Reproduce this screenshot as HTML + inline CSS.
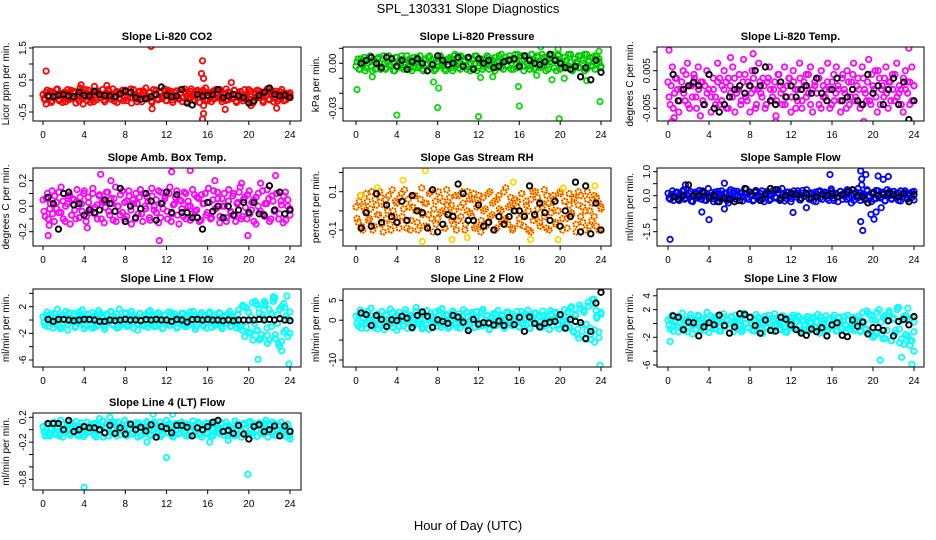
<!DOCTYPE html>
<html><head><meta charset="utf-8">
<style>
html,body{margin:0;padding:0;background:#fff;}
svg{display:block;font-family:"Liberation Sans",Arial,sans-serif;}
</style></head>
<body>
<svg id="chart" width="936" height="540" viewBox="0 0 936 540" xmlns="http://www.w3.org/2000/svg">
<rect width="936" height="540" fill="#fff"/>
<text x="468" y="13" text-anchor="middle" font-size="13">SPL_130331  Slope Diagnostics</text>
<text x="468" y="530" text-anchor="middle" font-size="13">Hour of Day (UTC)</text>
</svg>
<script>
// ---- data (values per panel; hours spread evenly 0..24 across each array) ----
const xTicks = [0,4,8,12,16,20,24];
const titles = ["Slope Li-820 CO2","Slope Li-820 Pressure","Slope Li-820 Temp.","Slope Amb. Box Temp.","Slope Gas Stream RH","Slope Sample Flow","Slope Line 1 Flow","Slope Line 2 Flow","Slope Line 3 Flow","Slope Line 4 (LT) Flow"];
const yLabels = ["Licor ppm per min.","kPa per min.","degrees C per min.","degrees C per min.","percent per min.","ml/min per min.","ml/min per min.","ml/min per min.","ml/min per min.","ml/min per min."];
const yTicks1 = [-0.5,0,0.5,1,1.5];        const yTickLabels1 = ["-0.5","","0.5","","1.5"];
const yTicks2 = [0.01,0,-0.01,-0.02,-0.03]; const yTickLabels2 = ["","0.00","","","-0.03"];
const yTicks3 = [0.01,0.005,0,-0.005];     const yTickLabels3 = ["","0.005","","-0.005"];
const yTicks4 = [0.2,0.1,0,-0.1,-0.2];     const yTickLabels4 = ["0.2","","0.0","","-0.2"];
const yTicks5 = [0.2,0.1,0,-0.1];          const yTickLabels5 = ["","0.1","","-0.1"];
const yTicks6 = [1,0.5,0,-0.5,-1,-1.5];    const yTickLabels6 = ["1.0","","0.0","","","-1.5"];
const yTicks7 = [4,2,0,-2,-4,-6];          const yTickLabels7 = ["","2","","-2","","-6"];
const yTicks8 = [5,0,-5,-10];              const yTickLabels8 = ["5","0","","-10"];
const yTicks9 = [4,2,0,-2,-4,-6];          const yTickLabels9 = ["4","2","","-2","","-6"];
const yTicks10 = [0.2,0,-0.2,-0.4,-0.6,-0.8]; const yTickLabels10 = ["0.2","","-0.2","","","-0.8"];

const band1 = [0.05,-0.12,0.18,0.02,-0.2,0.12,-0.05,0.22,-0.15,0.08,0.0,-0.18,0.2,0.1,-0.08,0.15,-0.22,0.05,0.25,-0.1,0.12,-0.02,0.18,-0.2,0.06,0.3,-0.12,0.1,-0.05,0.2,-0.18,0.02,0.15,-0.1,0.22,0.0,-0.2,0.12,0.08,-0.15,0.18,-0.05,0.1,-0.22,0.2,0.05,-0.1,0.15,-0.18,0.08,0.25,-0.05,0.12,-0.2,0.02,0.18,-0.12,0.1,-0.08,0.22,-0.15,0.05,0.15,-0.2,0.1,0.0,-0.1,0.2,-0.05,0.12,-0.18,0.08,0.22,-0.12,0.05,0.18,-0.2,0.1,-0.02,0.25,-0.15,0.08,0.12,-0.1,0.2,-0.05,0.15,-0.18,0.02,0.22,-0.12,0.1,-0.08,0.18,-0.2,0.05,0.12,-0.15,0.2,0.0,-0.1,0.15,-0.22,0.08,0.18,-0.05,0.12,-0.2,0.1,0.22,-0.12,0.05,-0.18,0.15,0.02,-0.1,0.2,-0.15,0.08,-0.05,0.1];
const band1b = [-0.08,0.1,-0.02,0.15,-0.15,0.04,0.2,-0.1,0.08,-0.2,0.12,0.0,-0.12,0.18,-0.05,0.1,0.02,-0.16,0.14,-0.04,0.2,-0.14,0.06,0.0,-0.18,0.12,0.16,-0.06,0.02,-0.12,0.1,0.2,-0.08,0.04,-0.16,0.14,0.06,-0.1,0.18,-0.02,-0.14,0.08,0.22,-0.06,0.0,-0.18,0.12,0.04,0.16,-0.1,-0.02,0.1,-0.16,0.2,0.06,-0.08,0.14,-0.04,0.0,-0.14,0.18,0.08,-0.12,0.02,0.16,-0.06,0.1,-0.18,0.22,0.0,-0.1,0.14,0.04,-0.16,0.12,-0.02,0.08,0.18,-0.12,0.0,0.1,-0.18,0.16,-0.06,0.04,0.2,-0.1,0.06,-0.14,0.12,0.0,-0.04,0.18,-0.16,0.08,0.14,-0.08,0.02,-0.12,0.2,0.06,-0.18,0.1,-0.02,0.16,0.0,-0.14,0.12,0.04,-0.1,0.18,-0.06,0.08,-0.16,0.14,0.0,0.1,-0.12,0.06,0.02];
const out1 = [[0.3,0.78],[0.3,-0.25],[10.5,1.55],[10.6,-0.4],[15.5,1.1],[15.4,0.7],[15.6,0.55],[15.6,-0.55],[15.5,-0.72],[15.6,-0.3],[17.7,-0.42],[18.3,0.42],[22.7,-0.38],[3.7,0.35],[6.2,0.33],[3.9,-0.25],[20.2,-0.3]];
const black1 = [0.0,-0.02,0.03,0.05,0.0,-0.02,0.12,0.02,0.0,0.15,0.05,0.02,0.0,-0.02,0.06,0.15,0.12,-0.05,-0.1,-0.08,-0.02,0.05,0.28,0.02,-0.02,0.0,0.2,-0.22,-0.28,0.05,0.0,0.02,0.04,0.2,-0.05,0.0,0.05,0.0,-0.05,-0.22,-0.15,0.02,0.12,0.25,0.05,0.0,0.03,-0.05];

const band2 = [-0.002,0.003,-0.004,0.001,0.004,-0.003,0.0,0.005,-0.005,0.002,-0.001,0.004,-0.004,0.003,0.0,-0.003,0.005,-0.002,0.001,-0.005,0.004,0.0,-0.003,0.003,-0.001,0.005,-0.004,0.002,0.0,-0.003,0.004,-0.002,0.001,-0.005,0.003,0.0,0.005,-0.003,0.002,-0.004,0.001,0.004,-0.002,0.0,-0.005,0.003,0.002,-0.003,0.005,-0.001,0.0,-0.004,0.004,0.001,-0.002,0.003,-0.005,0.002,0.0,0.005,-0.003,0.001,-0.004,0.003,0.0,0.004,-0.002,0.002,-0.005,0.001,0.005,-0.003,0.0,0.004,-0.001,0.003,-0.004,0.002,0.006,-0.003,0.001,0.005,-0.002,0.004,0.0,-0.004,0.006,0.002,-0.003,0.005,0.0,-0.002,0.004,-0.005,0.003,0.001,0.006,-0.003,0.002,0.005,-0.004,0.0,0.004,-0.002,0.006,0.001,-0.005,0.003,0.0,0.005,-0.003,0.002,0.006,-0.004,0.001,0.004,-0.002,0.005,0.0,0.003,-0.003];
const band2b = [0.001,-0.004,0.003,-0.001,-0.005,0.002,0.004,-0.002,0.001,-0.004,0.003,0.0,-0.002,0.005,-0.004,0.001,-0.001,0.003,-0.005,0.004,-0.002,0.002,0.005,-0.004,0.0,-0.002,0.003,-0.005,0.004,0.001,-0.003,0.005,-0.004,0.002,-0.001,0.004,-0.003,0.0,-0.005,0.003,-0.002,0.005,0.001,-0.004,0.002,-0.002,0.004,-0.005,0.0,0.003,-0.003,0.005,-0.001,0.002,-0.004,0.004,0.0,-0.003,0.005,-0.005,0.002,0.003,-0.002,0.0,0.005,-0.004,0.003,-0.001,0.004,-0.003,0.001,0.006,-0.004,0.002,-0.002,0.005,0.0,-0.004,0.003,0.006,-0.001,0.002,-0.005,0.005,-0.002,0.003,0.006,-0.004,0.001,0.004,-0.003,0.006,-0.001,0.002,-0.004,0.005,0.0,0.003,-0.005,0.006,0.001,-0.003,0.004,0.002,-0.002,0.006,-0.004,0.003,0.001,-0.003,0.005,0.0,-0.005,0.006,0.002,-0.002,0.004,-0.004,0.005,0.001,-0.002];
const out2 = [[0.1,-0.0175],[1.6,-0.009],[4,-0.0345],[7.6,-0.0125],[8,-0.0295],[8.1,-0.0165],[9.7,0.006],[12,-0.0355],[12.2,-0.0095],[13.4,-0.009],[15.9,-0.0155],[16,-0.0285],[17.7,-0.008],[18.1,0.011],[19.2,-0.011],[19.8,0.0095],[19.9,-0.037],[20.4,-0.01],[22.6,-0.0115],[23.9,-0.0255],[23.8,0.008]];
const black2 = [0.0,0.002,0.004,0.0,-0.003,0.004,0.003,-0.002,0.002,-0.004,0.001,0.003,0.0,-0.005,-0.001,0.005,0.002,-0.001,0.0,0.004,-0.002,0.004,-0.004,0.003,0.0,0.002,-0.003,-0.002,0.001,0.002,0.003,-0.002,0.005,0.002,0.0,-0.001,0.001,0.006,0.002,0.0,-0.003,-0.004,-0.002,-0.009,-0.003,-0.011,0.002,-0.006];

const band3 = [0.002,-0.004,0.006,-0.001,0.003,-0.006,0.0,0.005,-0.003,0.007,-0.005,0.001,0.004,-0.002,0.006,-0.007,0.002,-0.004,0.005,0.0,-0.006,0.003,-0.002,0.007,-0.004,0.001,0.005,-0.005,0.003,-0.001,0.006,-0.006,0.0,0.004,-0.003,0.008,-0.002,0.002,-0.006,0.005,0.0,-0.004,0.007,-0.001,0.003,-0.005,0.002,0.006,-0.003,0.0,-0.007,0.004,0.001,-0.004,0.006,-0.002,0.003,-0.006,0.005,0.0,-0.003,0.007,-0.005,0.002,0.004,-0.001,0.006,-0.006,0.001,0.003,-0.004,0.005,-0.002,0.0,0.007,-0.005,0.002,-0.003,0.006,0.0,-0.006,0.004,-0.001,0.005,-0.004,0.002,0.007,-0.002,0.003,-0.005,0.006,0.0,-0.003,0.008,-0.004,0.001,0.005,-0.006,0.003,0.0,-0.002,0.006,-0.005,0.002,0.004,-0.003,0.007,-0.001,0.0,-0.006,0.005,0.002,-0.004,0.006,0.001];
const band3b = [-0.002,0.001,-0.005,0.003,0.0,-0.003,0.002,-0.001,0.004,-0.004,0.001,-0.002,0.003,-0.005,0.0,0.002,-0.003,0.001,-0.001,0.004,-0.002,0.0,-0.004,0.002,0.003,-0.003,0.0,0.002,-0.005,0.001,-0.002,0.003,-0.001,0.0,-0.004,0.002,0.004,-0.003,0.001,-0.001,0.003,-0.005,0.0,0.002,-0.002,0.001,-0.004,0.003,0.0,-0.002,0.002,-0.003,0.004,-0.001,0.0,-0.004,0.001,0.003,-0.002,0.002,-0.005,0.0,0.003,-0.003,0.001,-0.002,0.004,-0.004,0.0,0.002,-0.001,0.003,-0.005,0.001,-0.002,0.002,0.0,-0.004,0.004,-0.001,0.001,-0.003,0.003,0.0,-0.005,0.002,-0.002,0.004,-0.003,0.001,0.0,-0.004,0.003,-0.001,0.002,-0.003,0.004,0.0,-0.002,0.005,-0.004,0.001,0.003,-0.001,0.002,-0.003,0.0,0.004,-0.002,0.001,-0.004,0.003,0.0,-0.001,0.002,-0.003,0.001];
const out3 = [[0.1,0.0105],[0.4,-0.0085],[0.6,-0.0075],[7.7,-0.0105],[8.3,0.0095],[13.7,-0.0105],[15.5,-0.0095],[16.4,-0.0095],[17.2,-0.0095],[23.5,0.011],[6.1,0.0085],[10.5,-0.0085],[19.1,-0.0085]];
const black3 = [0.004,-0.003,0.0,0.001,0.002,0.001,-0.004,0.004,-0.005,-0.006,-0.004,-0.002,0.0,0.001,-0.001,0.001,0.005,0.001,0.006,-0.003,-0.004,0.002,-0.002,0.001,-0.002,0.0,0.001,-0.001,0.003,-0.001,-0.003,0.0,0.003,-0.003,-0.002,0.0,-0.003,-0.004,0.004,-0.001,0.001,-0.004,0.0,0.003,-0.004,0.002,-0.008,-0.003];

const band4 = [0.05,-0.08,0.1,-0.02,0.12,-0.12,0.03,-0.05,0.15,-0.1,0.0,0.08,-0.14,0.06,-0.03,0.13,-0.09,0.02,0.1,-0.12,0.07,-0.05,0.14,-0.01,-0.1,0.09,0.03,-0.13,0.11,-0.04,0.06,-0.11,0.15,0.0,-0.07,0.12,-0.1,0.04,0.08,-0.14,0.02,0.1,-0.06,0.13,-0.12,0.0,0.07,-0.09,0.14,-0.03,0.05,-0.13,0.11,-0.02,0.08,-0.1,0.15,-0.06,0.02,0.12,-0.14,0.04,-0.08,0.1,0.0,-0.11,0.13,-0.04,0.07,-0.12,0.09,0.02,-0.07,0.14,-0.1,0.05,-0.02,0.11,-0.13,0.06,0.0,-0.09,0.13,-0.05,0.1,-0.12,0.03,0.15,-0.08,0.07,-0.1,0.12,-0.03,0.05,-0.14,0.1,0.18,-0.06,0.02,0.13,-0.12,0.08,-0.04,0.1,-0.1,0.04,-0.13,0.11,0.0,-0.07];
const band4b = [-0.04,0.06,-0.1,0.02,-0.06,0.08,-0.02,0.11,-0.05,0.04,-0.12,0.02,0.09,-0.07,0.05,-0.1,0.0,0.07,-0.04,0.12,-0.08,0.03,-0.02,0.1,-0.06,0.01,0.08,-0.1,0.04,-0.01,0.11,-0.07,0.02,0.06,-0.12,0.0,0.09,-0.05,0.03,-0.08,0.12,-0.03,0.05,-0.1,0.02,0.07,-0.06,0.1,-0.02,0.04,-0.11,0.08,0.0,-0.05,0.12,-0.09,0.03,0.06,-0.04,0.1,-0.12,0.01,0.07,-0.07,0.05,-0.02,0.11,-0.1,0.04,0.0,-0.06,0.09,-0.03,0.06,-0.11,0.02,0.1,-0.05,0.03,-0.09,0.12,-0.02,0.06,-0.08,0.0,0.1,-0.12,0.04,-0.04,0.08,-0.07,0.02,0.11,-0.1,0.05,-0.01,0.09,-0.06,0.03,-0.12,0.07,0.0,-0.04,0.12,-0.08,0.02,0.06,-0.1,0.04,-0.03,0.1,-0.06,0.01,0.08,-0.11,0.05,-0.02];
const out4 = [[0.5,-0.23],[0.6,-0.15],[11.3,-0.27],[12.5,0.27],[14.3,0.28],[5.6,0.25],[19.9,-0.23],[22.6,0.24],[6.6,0.2],[19.3,0.18],[4.3,-0.17],[16.7,0.2]];
const black4 = [0.07,0.02,-0.18,0.1,0.11,0.01,0.02,-0.07,-0.03,-0.05,-0.03,0.05,0.02,-0.04,0.14,-0.12,0.0,-0.09,-0.02,0.1,0.04,-0.11,0.02,0.11,-0.05,0.09,-0.05,-0.05,-0.09,-0.09,-0.18,0.03,-0.04,0.0,-0.09,0.0,-0.07,-0.03,0.03,-0.05,0.03,-0.06,-0.07,0.16,-0.03,0.11,-0.06,-0.03];

const band5 = [0.02,-0.06,0.08,-0.1,0.0,0.05,-0.04,0.1,-0.08,0.03,-0.02,0.07,-0.11,0.06,0.0,-0.07,0.11,-0.03,0.04,-0.09,0.09,0.01,-0.05,0.06,-0.1,0.02,0.08,-0.06,0.0,0.12,-0.08,0.04,-0.02,0.1,-0.11,0.05,-0.04,0.07,0.0,-0.09,0.11,-0.01,0.03,-0.07,0.08,-0.05,0.02,0.1,-0.1,0.0,0.06,-0.03,0.09,-0.08,0.04,-0.11,0.07,0.01,-0.06,0.1,-0.02,0.05,-0.09,0.08,0.0,-0.05,0.12,-0.07,0.03,-0.1,0.06,0.02,-0.04,0.09,-0.08,0.05,0.0,-0.11,0.1,-0.03,0.07,-0.06,0.02,0.11,-0.09,0.04,-0.01,0.08,-0.07,0.0,0.1,-0.1,0.05,-0.04,0.09,-0.02,0.06,-0.11,0.03,0.08,-0.06,0.0,0.1,-0.08,0.04,-0.03,0.07,-0.1,0.02];
const band5b = [-0.04,0.05,-0.08,0.02,0.09,-0.05,0.01,-0.1,0.06,-0.02,0.1,-0.07,0.03,-0.04,0.08,-0.1,0.0,0.05,-0.06,0.07,-0.03,0.11,-0.09,0.02,-0.05,0.08,0.0,-0.1,0.06,-0.02,0.04,-0.08,0.09,-0.04,0.01,-0.07,0.1,-0.01,0.05,-0.09,0.03,0.07,-0.05,0.0,-0.1,0.08,-0.03,0.04,-0.07,0.1,-0.01,0.06,-0.09,0.02,0.08,-0.05,0.0,-0.08,0.09,-0.03,0.04,-0.1,0.06,0.01,-0.06,0.1,-0.04,0.02,0.07,-0.09,0.0,0.05,-0.07,0.09,-0.02,0.03,-0.1,0.06,-0.05,0.1,0.01,-0.08,0.04,-0.03,0.08,-0.1,0.02,0.06,-0.06,0.0,0.09,-0.04,0.05,-0.09,0.03,-0.01,0.07,-0.07,0.1,-0.03,0.02,-0.1,0.06,0.0,-0.05,0.08,-0.08,0.04,0.01];
const out5 = [[6.5,-0.16],[6.8,0.21],[4.6,0.16],[0.5,0.08],[15.4,0.15],[17.1,-0.15],[19.8,-0.15],[20.3,0.12],[23.4,0.13],[9.4,-0.15],[10.9,-0.14],[2.1,0.12]];
const black5 = [-0.09,-0.01,-0.08,0.09,-0.06,0.03,-0.03,-0.06,0.05,-0.05,0.08,0.0,-0.01,-0.09,0.11,-0.11,-0.07,-0.02,-0.03,0.14,0.09,-0.05,-0.05,0.03,-0.08,-0.06,-0.1,-0.03,-0.07,-0.03,0.0,0.0,-0.03,0.13,-0.02,0.04,-0.01,-0.05,0.05,-0.08,0.0,-0.03,0.15,-0.11,0.13,-0.12,0.04,-0.1];

const band6 = [0.1,-0.15,0.2,-0.05,0.15,-0.2,0.05,0.25,-0.1,0.0,0.18,-0.25,0.08,-0.05,0.22,-0.15,0.1,-0.2,0.3,0.0,-0.12,0.15,-0.25,0.05,0.2,-0.08,0.12,-0.3,0.25,-0.1,0.0,0.18,-0.2,0.1,-0.05,0.28,-0.15,0.05,-0.22,0.15,0.0,-0.1,0.2,-0.25,0.1,0.05,-0.15,0.22,-0.05,0.12,-0.2,0.3,0.0,-0.12,0.15,-0.25,0.08,-0.05,0.2,-0.18,0.1,0.0,0.25,-0.1,0.05,-0.22,0.15,-0.05,0.2,-0.15,0.1,0.0,-0.2,0.28,-0.1,0.05,-0.25,0.18,0.0,0.12,-0.15,0.22,-0.3,0.1,-0.05,0.3,-0.2,0.05,-0.1,0.25,0.0,-0.25,0.15,-0.12,0.2,-0.05,0.1,-0.2,0.25,0.0,-0.15,0.18,-0.08,0.12,-0.22,0.05,0.2,-0.1,0.0,0.15,-0.18];
const band6b = [-0.1,0.05,-0.2,0.12,0.0,-0.08,0.18,-0.15,0.05,0.1,-0.22,0.02,0.15,-0.1,0.0,0.2,-0.18,0.08,-0.02,0.12,-0.25,0.05,0.18,-0.12,0.0,0.1,-0.2,0.15,-0.05,0.2,-0.15,0.02,0.12,-0.22,0.08,-0.08,0.15,0.0,-0.18,0.22,-0.05,0.1,-0.15,0.05,0.18,-0.2,0.0,0.12,-0.1,0.25,-0.08,0.05,-0.22,0.15,0.0,-0.12,0.2,-0.05,0.1,-0.18,0.22,-0.02,0.08,-0.15,0.12,0.0,-0.25,0.18,-0.08,0.05,0.15,-0.12,0.0,0.2,-0.2,0.1,-0.05,0.18,-0.15,0.05,0.25,-0.1,0.0,-0.2,0.15,-0.08,0.12,0.02,-0.18,0.2,-0.05,0.1,-0.15,0.22,0.0,-0.1,0.15,-0.22,0.05,0.18,-0.12,0.0,0.1,-0.2,0.2,-0.05,0.12,-0.15,0.05,-0.08,0.18];
const out6 = [[0.2,-1.82],[3.3,-0.68],[4.0,-1.0],[5.5,0.52],[5.5,-0.55],[12.2,-0.7],[15.8,0.88],[18.8,1.03],[18.8,-1.08],[19.0,-1.45],[18.9,0.7],[18.9,0.45],[19.3,0.88],[19.8,-0.78],[20.1,-0.98],[20.3,-0.68],[20.5,0.82],[21.0,0.68],[21.5,0.8],[20.8,-0.5],[1.7,0.45],[13.5,-0.5]];
const black6 = [-0.05,-0.15,0.0,0.45,0.0,0.0,0.15,-0.1,0.0,-0.25,-0.1,-0.15,-0.25,-0.2,0.3,0.15,0.15,-0.2,0.05,0.3,0.25,-0.15,0.0,0.1,0.05,-0.1,0.1,-0.1,-0.05,0.05,0.0,0.1,-0.05,0.05,0.15,0.25,0.0,-0.05,-0.3,0.1,0.0,0.05,0.1,0.05,-0.05,0.1,-0.25,0.05];

const band7 = [0.5,-0.8,1.2,-0.3,0.9,-1.2,0.2,1.6,-1.0,0.6,-0.5,1.3,-1.5,0.4,0.0,1.0,-0.9,0.7,-0.2,1.5,-1.3,0.3,0.8,-0.6,1.1,-1.1,0.1,1.4,-0.4,0.6,-1.4,0.9,-0.1,1.2,-0.8,0.4,-1.2,1.6,0.0,-0.6,0.9,-1.0,0.5,1.3,-0.3,0.2,-1.5,1.0,-0.7,0.7,0.0,-1.1,1.4,-0.2,0.6,-0.9,1.1,0.1,-1.3,0.8,-0.4,1.2,-0.8,0.3,0.9,-1.2,0.5,-0.2,1.0,-1.0,0.2,0.7,-0.6,1.3,-1.4,0.4,0.0,1.1,-0.9,0.6,-0.3,1.2,-1.1,0.8,0.1,-0.7,1.0,-1.3,0.4,-0.4,0.9,-1.0,0.6,0.0,-1.2,1.5,-0.8,2.2,-2.5,1.8,-1.8,0.5,-3.0,2.8,-1.5,1.0,-2.2,0.3,2.5,-3.5,1.5,-1.0,3.2,-2.8,0.8,-4.0,2.0,-1.8,0.6,-2.5,1.2];
const band7b = [-0.4,0.7,-1.0,0.3,-0.6,1.0,-0.2,0.5,-1.3,0.8,0.0,-0.7,1.1,-0.3,0.6,-1.1,0.2,1.2,-0.5,0.4,-0.9,0.9,-0.1,-1.2,0.6,0.3,-0.8,1.0,-0.2,-1.0,0.7,-0.4,1.3,-0.6,0.1,0.9,-1.1,0.4,-0.3,1.1,-0.7,0.0,0.8,-1.2,0.5,-0.5,1.0,-0.1,-0.9,0.6,1.2,-0.6,0.2,-1.0,0.9,-0.3,0.4,-1.2,0.7,0.0,-0.8,1.1,-0.4,0.5,-1.1,0.2,1.0,-0.6,0.3,-0.9,1.2,-0.2,0.6,-1.0,0.1,0.8,-0.7,0.4,-1.2,1.0,-0.3,0.5,-0.8,0.2,1.1,-1.0,0.0,0.7,-0.5,1.3,-0.9,0.3,-0.2,0.9,-1.1,-1.5,2.0,-1.0,1.2,-2.0,2.6,-0.5,-1.6,1.8,-2.8,0.8,2.2,-1.2,-3.0,1.0,2.8,-2.2,-0.5,1.6,-3.2,2.5,-1.5,0.2,-2.0];
const out7 = [[20.9,-5.9],[21.0,-3.0],[20.8,2.3],[21.5,2.8],[22.5,3.3],[22.4,3.5],[23.2,-4.6],[23.9,-6.6],[23.7,3.6],[23.5,1.9],[21.8,-2.3],[22.9,-3.6]];
const black7 = [0.1,-0.2,0.1,0.1,0.0,-0.1,0.0,0.1,0.1,0.0,-0.2,-0.2,0.0,-0.1,0.0,0.1,0.0,0.0,-0.1,0.1,0.0,0.1,0.0,0.0,-0.2,0.1,0.0,-0.3,0.1,0.1,0.0,0.1,0.0,0.0,-0.1,0.0,-0.1,0.0,0.0,0.0,0.0,0.1,0.0,0.1,0.0,0.2,0.0,-0.1];

const band8 = [1.0,-1.5,2.5,-0.5,1.8,-2.0,0.5,3.0,-1.0,1.2,-2.2,0.0,2.2,-1.2,1.5,-0.8,2.8,-1.8,0.8,-2.5,2.0,0.2,-1.4,2.6,-0.3,1.3,-2.1,0.6,3.2,-1.0,1.8,-1.7,0.0,2.4,-2.3,1.0,-0.6,2.0,-1.5,0.4,2.9,-1.1,1.4,-2.0,0.7,2.3,-0.8,-1.8,1.6,0.2,2.6,-1.3,0.9,-2.2,1.9,-0.4,2.1,-1.6,0.5,2.7,-1.0,1.2,-2.4,0.3,1.7,-1.4,2.4,-0.7,1.0,-2.0,2.0,0.0,-1.2,1.5,-0.5,2.2,-1.8,0.8,1.3,-1.0,2.5,-2.1,0.4,1.8,-0.9,1.1,-1.6,2.3,-0.3,0.9,-2.3,1.6,0.1,2.0,-1.3,1.2,-0.6,2.6,-2.0,0.7,3.0,-2.8,1.5,-3.5,3.8,-1.2,2.5,-4.8,4.5,-2.0,5.2,-5.5,1.0,-3.0,2.0];
const band8b = [-0.8,1.2,-2.0,0.4,-1.0,2.2,-0.2,1.0,-1.8,0.6,1.6,-1.2,0.2,-2.4,1.2,0.0,-1.0,2.0,-0.6,1.4,-1.6,0.8,-0.2,1.8,-2.0,0.4,1.0,-1.2,2.2,-0.4,0.0,-2.2,1.4,-0.8,0.6,1.8,-1.4,0.2,-0.6,2.4,-1.8,0.8,-0.2,1.2,-1.6,0.0,1.8,-1.0,0.4,-2.0,1.0,-0.4,2.0,-1.2,0.2,1.4,-1.8,0.6,-0.8,2.2,-1.4,0.0,1.0,-2.2,0.8,-0.2,1.6,-1.0,0.4,1.2,-1.8,0.2,2.0,-0.6,-1.4,1.0,0.0,-1.6,2.2,-0.8,0.6,1.4,-2.0,0.2,-0.4,1.8,-1.2,0.8,-1.8,1.2,0.0,-0.6,2.4,-1.4,0.4,1.6,-2.2,1.0,-0.2,-1.0,2.0,-1.6,3.4,-3.0,1.2,-2.2,3.0,-4.0,2.0,-1.0,3.5,-3.6,4.2,-2.5,0.5,-4.4,1.5];
const out8 = [[21.8,-4.5],[23.0,-4.8],[23.3,5.3],[23.9,-11.3],[23.5,2.5],[22.6,-2.5]];
const black8 = [1.8,1.4,-1.3,1.2,0.2,-1.6,0.1,-0.1,1.0,0.5,-1.8,1.2,2.1,1.0,-1.8,0.1,-0.3,-0.8,1.2,0.8,-0.5,-2.6,0.2,-1.0,-0.6,-0.7,-1.2,-0.2,-1.3,0.7,-1.1,0.7,-2.8,0.8,-0.8,-1.7,-0.8,-0.5,-0.3,1.4,-2.0,0.2,-0.3,-0.6,-4.6,-2.8,4.3,7.0];

const band9 = [0.5,-0.8,1.2,-0.3,0.9,-1.2,0.2,1.5,-1.0,0.6,-0.5,1.3,-1.5,0.4,0.0,1.0,-0.9,0.7,-0.2,1.6,-1.3,0.3,0.8,-0.6,1.1,-1.1,0.1,1.4,-0.4,0.6,-1.4,0.9,-0.1,1.2,-0.8,0.4,-1.2,1.5,0.0,-0.6,0.9,-1.0,0.5,1.3,-0.3,0.2,-1.5,1.0,-0.7,0.7,0.0,-1.1,1.4,-0.2,0.6,-0.9,1.1,0.1,-1.3,0.8,-0.4,1.2,-0.8,0.3,0.9,-1.2,0.5,-0.2,1.0,-1.0,0.2,0.7,-0.6,1.3,-1.4,0.4,0.0,1.1,-0.9,0.6,-0.3,1.2,-1.1,0.8,0.1,-0.7,1.0,-1.3,0.4,-0.4,0.9,-1.0,0.6,0.0,-1.2,1.6,-0.8,1.8,-1.6,1.2,-2.0,0.5,-1.4,2.0,-1.5,1.0,-2.2,0.3,1.5,-2.5,0.8,-1.0,2.3,-2.8,0.5,-3.0,1.2,-1.8,0.6,-2.5,0.2];
const band9b = [-0.3,0.6,-1.1,0.2,-0.5,1.0,-0.8,0.4,0.0,-1.2,0.8,-0.2,0.5,-0.9,1.2,-0.4,0.1,-1.0,0.7,-0.6,1.1,-0.1,-0.8,0.5,0.2,-1.1,0.9,-0.3,0.4,-0.7,1.0,-1.2,0.2,0.6,-0.4,-0.9,1.1,0.0,-0.6,0.8,-0.2,-1.1,0.4,0.9,-0.8,0.1,0.6,-0.5,1.2,-1.0,0.3,-0.2,0.8,-0.8,1.0,0.0,-1.2,0.5,-0.4,0.9,-0.7,0.2,1.1,-1.0,0.4,-0.3,0.7,-1.1,0.0,0.9,-0.5,0.3,-0.9,1.0,-0.1,0.5,-1.2,0.6,-0.4,0.8,0.1,-1.0,0.9,-0.6,0.3,-0.2,1.2,-0.9,0.0,0.6,-0.7,1.0,-1.1,0.4,0.2,-0.8,1.4,-1.2,0.5,-1.8,1.6,-0.6,0.2,-2.2,1.2,-1.0,1.8,-2.5,0.6,-1.4,2.0,-0.8,-2.2,1.0,-1.6,2.2,-3.2,0.8,-1.2];
const out9 = [[0.2,-2.6],[20.7,-5.3],[22.8,-4.9],[23.8,-5.9],[24.0,-4.0],[23.6,-2.4],[22.5,2.3]];
const black9 = [1.1,0.9,-0.9,0.2,0.1,-1.8,-0.5,0.1,-0.2,1.2,-0.3,-1.4,-0.5,1.4,1.3,0.9,-0.3,-1.4,0.5,-1.0,-1.1,0.9,0.6,-0.2,-0.9,-1.4,-1.7,-0.8,-1.2,-0.6,-1.8,-0.2,0.1,-1.7,-1.9,0.5,-0.4,0.2,-1.5,-0.6,-0.6,-1.0,0.4,-1.8,0.3,0.6,-0.2,1.0];

const band10 = [0.05,-0.05,0.1,-0.1,0.0,0.12,-0.08,0.04,0.15,-0.12,0.02,0.08,-0.06,0.1,-0.02,0.13,-0.1,0.0,0.06,-0.08,0.12,-0.04,0.02,0.1,-0.12,0.07,0.0,0.14,-0.06,0.04,-0.1,0.1,0.02,-0.05,0.12,-0.08,0.06,0.15,-0.1,0.0,0.08,-0.04,0.11,-0.12,0.03,0.09,-0.06,0.13,0.0,-0.1,0.06,0.1,-0.03,0.12,-0.08,0.02,0.15,-0.05,0.07,-0.12,0.1,0.0,-0.06,0.12,0.04,-0.1,0.08,-0.02,0.14,-0.08,0.05,0.1,-0.12,0.0,0.11,-0.05,0.07,-0.1,0.13,0.02,-0.06,0.09,-0.03,0.12,-0.1,0.04,0.0,0.14,-0.08,0.06,-0.12,0.1,0.02,-0.05,0.13,-0.1,0.07,0.0,0.11,-0.07,0.04,0.15,-0.12,0.08,-0.02,0.1,-0.09,0.05,0.12,-0.06,0.0,0.09,-0.1];
const band10b = [-0.03,0.08,-0.08,0.03,0.1,-0.06,0.05,-0.1,0.0,0.09,-0.04,0.12,-0.09,0.02,0.07,-0.07,0.04,0.11,-0.11,0.01,-0.03,0.08,0.05,-0.09,0.1,-0.02,0.06,-0.12,0.03,0.09,-0.05,0.0,0.12,-0.1,0.04,0.07,-0.03,-0.09,0.1,0.02,-0.07,0.06,0.0,0.11,-0.1,0.04,-0.02,0.09,-0.08,0.05,0.12,-0.06,0.01,-0.11,0.08,0.03,-0.04,0.1,-0.09,0.06,0.0,-0.07,0.11,0.02,-0.05,0.09,-0.1,0.04,0.07,-0.03,0.12,-0.08,0.01,0.06,-0.06,0.1,-0.11,0.03,0.08,-0.04,0.0,0.11,-0.09,0.05,0.07,-0.06,0.02,-0.1,0.1,0.04,-0.03,0.08,-0.08,0.12,0.0,-0.05,0.09,-0.11,0.06,0.02,-0.07,0.1,-0.04,0.05,0.12,-0.09,0.01,0.07,-0.06,0.03,-0.1,0.08,0.0];
const out10 = [[4.0,-0.93],[12.0,-0.45],[19.9,-0.72],[10.7,0.25],[12.6,0.25],[10.1,-0.2],[16.2,-0.2],[0.2,-0.1],[0.5,-0.1],[5.5,0.18],[6.5,0.2],[18.0,-0.17],[24.0,-0.15]];
const black10 = [0.1,0.1,0.1,0.0,0.15,-0.03,0.0,0.05,0.03,0.03,0.0,-0.05,0.07,-0.06,0.03,-0.07,0.09,0.0,0.04,-0.02,0.08,-0.12,0.05,0.02,-0.05,0.07,0.07,0.04,-0.1,0.03,0.0,0.05,0.12,0.15,-0.03,-0.01,-0.06,0.07,-0.07,-0.15,0.05,0.08,-0.03,0.0,0.06,-0.1,0.06,-0.03];

const bandSeries = [band1,band2,band3,band4,band5,band6,band7,band8,band9,band10];
const bandSeriesB = [band1b,band2b,band3b,band4b,band5b,band6b,band7b,band8b,band9b,band10b];
const outSeries = [out1,out2,out3,out4,out5,out6,out7,out8,out9,out10];
const blackSeries = [black1,black2,black3,black4,black5,black6,black7,black8,black9,black10];
const yTickSets = [yTicks1,yTicks2,yTicks3,yTicks4,yTicks5,yTicks6,yTicks7,yTicks8,yTicks9,yTicks10];
const yTickLabelSets = [yTickLabels1,yTickLabels2,yTickLabels3,yTickLabels4,yTickLabels5,yTickLabels6,yTickLabels7,yTickLabels8,yTickLabels9,yTickLabels10];

// ---- layout ----
const COLS = [{L:33,R:301,x0:43,x24:290},{L:343,R:611,x0:356,x24:601},{L:657,R:924,x0:668,x24:914}];
const ROWS = [{T:47,B:121},{T:168,B:246},{T:289,B:367},{T:413,B:490}];
const YCAL = [[1.5,48,-0.5,112],[0.01,48.3,-0.03,108.3],[0.005,70.7,-0.005,108.3],[0.2,180.7,-0.2,231.7],[0.1,191.7,-0.1,230],[1.0,171.7,-1.5,231.7],[2,306.7,-6,360],[5,300.3,-10,360],[4,295.8,-6,365],[0.2,417.3,-0.8,479.3]];
const COLORS = ["#ff0000","#00dd00","#ff00ff","#ff00ff","#ffd700","#0000ff","#00ffff","#00ffff","#00ffff","#00ffff"];

const NS = "http://www.w3.org/2000/svg";
const svg = document.getElementById("chart");
function mk(tag, attrs, parent){
  const e = document.createElementNS(NS, tag);
  for (const k in attrs) e.setAttribute(k, attrs[k]);
  (parent||svg).appendChild(e);
  return e;
}

for (let p = 0; p < 10; p++) {
  const c = COLS[p % 3], r = ROWS[Math.floor(p / 3)];
  const cal = YCAL[p];
  const xs = h => c.x0 + (c.x24 - c.x0) * h / 24;
  const ys = v => cal[1] + (v - cal[0]) * (cal[3] - cal[1]) / (cal[2] - cal[0]);
  const g = mk("g", {});
  
  

  const t = mk("text", {x:(c.L + c.R) / 2, y:r.T - 7, "text-anchor":"middle", "font-size":"11", "font-weight":"bold"}, g);
  t.textContent = titles[p];
  
  

  const yl = mk("text", {x:0, y:0, "text-anchor":"middle", "font-size":"10", transform:`translate(${c.L - 24},${(r.T + r.B) / 2}) rotate(-90)`}, g);
  yl.textContent = yLabels[p];
  
  

  const cid = "clip" + p;
  const cp = mk("clipPath", {id:cid}, g);
  mk("rect", {x:c.L, y:r.T, width:c.R - c.L, height:r.B - r.T}, cp);
  const pts = mk("g", {"clip-path":`url(#${cid})`, fill:"none", "stroke-width":"1.8"}, g);
  
  

  const col = COLORS[p];
  const drawBand = (band, offset) => {
    band.forEach((v, i) => {
      const h = offset + i * (24 - offset) / (band.length - 1);
      if (p === 4) {
        const ci = mk("circle", {cx:xs(h), cy:ys(v), r:2.7, stroke:"#ffd700"}, pts);
        
        
        mk("circle", {cx:xs(h), cy:ys(v), r:2.7, stroke:"#ff2000", "stroke-dasharray":"1.4 1.4"}, pts);
      } else {
        const ci = mk("circle", {cx:xs(h), cy:ys(v), r:2.7, stroke:col}, pts);
        
        
        if (p === 1) mk("circle", {cx:xs(h), cy:ys(v), r:2.7, stroke:"#005500", "stroke-width":"0.8", "stroke-dasharray":"0.8 2.5"}, pts);
      }
    });
  };
  drawBand(bandSeries[p], 0);
  drawBand(bandSeriesB[p], 0.1);
  outSeries[p].forEach(o => {
    const ci = mk("circle", {cx:xs(o[0]), cy:ys(o[1]), r:2.7, stroke:col}, pts);
    
    
  });
  const bl = blackSeries[p];
  bl.forEach((v, i) => {
    const h = 0.5 + i * 23.5 / (bl.length - 1);
    const ci = mk("circle", {cx:xs(h), cy:ys(v), r:2.7, stroke:"#000", "stroke-width":"1.9"}, pts);
    
    
  });

  const box = mk("rect", {x:c.L, y:r.T, width:c.R - c.L, height:r.B - r.T, fill:"none", stroke:"#000", "stroke-width":"1"}, g);
  
  

  xTicks.forEach(h => {
    mk("line", {x1:xs(h), x2:xs(h), y1:r.B, y2:r.B + 4, stroke:"#000"}, g);
    const tl = mk("text", {x:xs(h), y:r.B + 17, "text-anchor":"middle", "font-size":"10"}, g);
    tl.textContent = String(h);
    
    
  });
  yTickSets[p].forEach((v, i) => {
    mk("line", {x1:c.L - 4, x2:c.L, y1:ys(v), y2:ys(v), stroke:"#000"}, g);
    const lab = yTickLabelSets[p][i];
    if (lab) {
      const tl = mk("text", {x:0, y:0, "text-anchor":"middle", "font-size":"10", transform:`translate(${c.L - 7},${ys(v)}) rotate(-90)`}, g);
      tl.textContent = lab;
      
      
    }
  });
}
</script>
</body></html>
